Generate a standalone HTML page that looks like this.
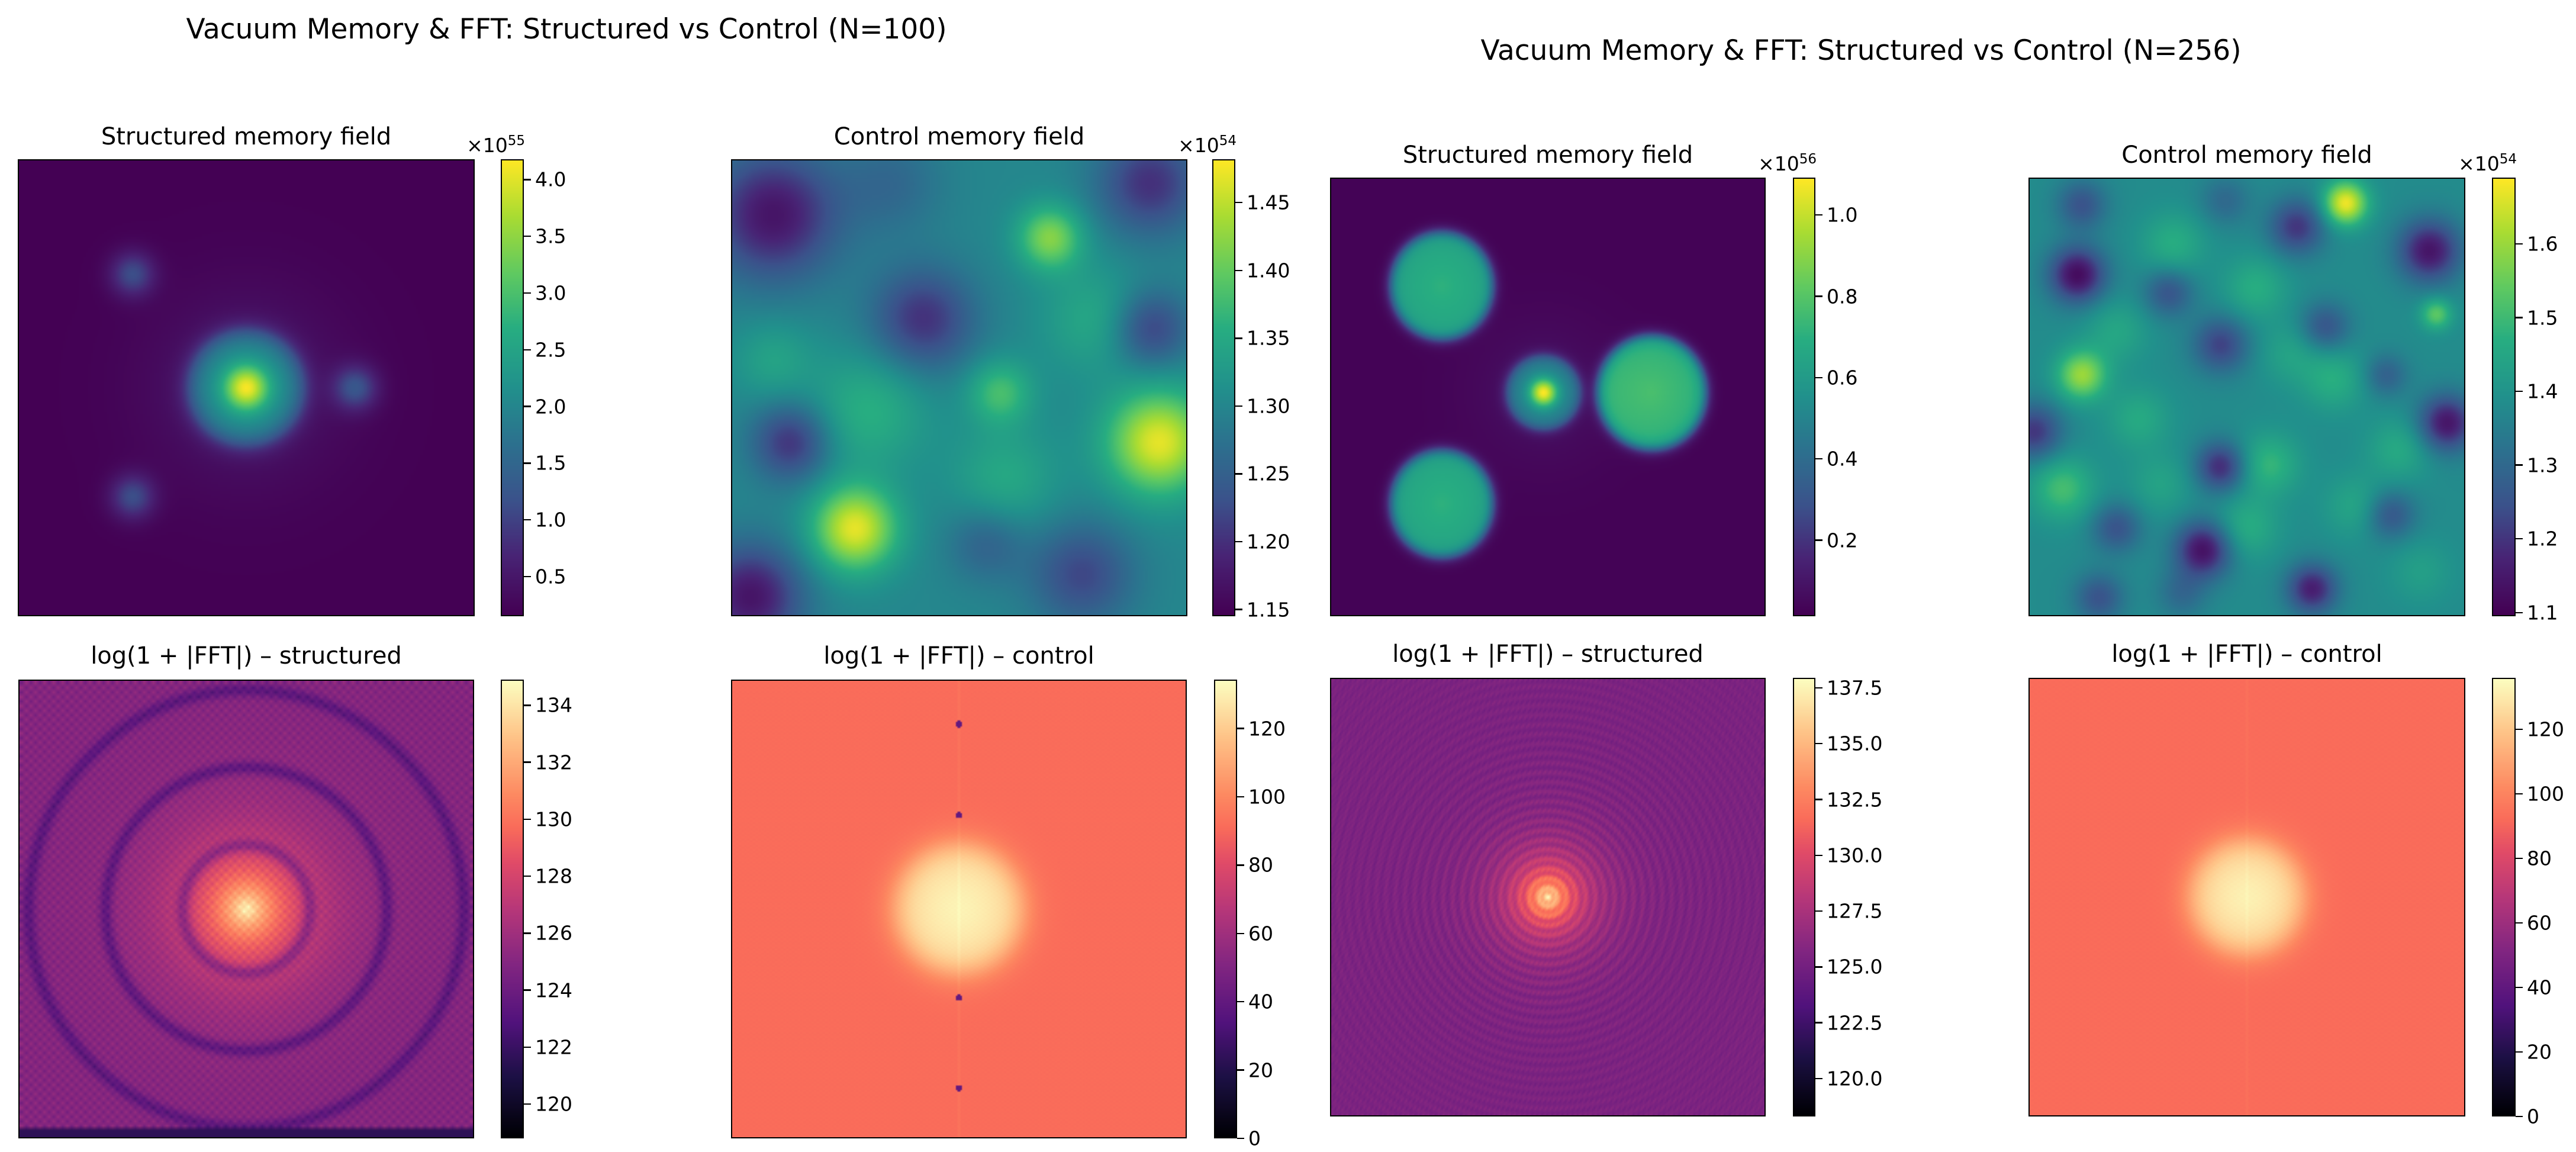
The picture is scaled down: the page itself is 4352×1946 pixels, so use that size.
<!DOCTYPE html>
<html><head><meta charset="utf-8">
<style>
html,body{margin:0;padding:0;background:#fff;}
body{width:4352px;height:1946px;position:relative;overflow:hidden;font-family:"DejaVu Sans","Liberation Sans",sans-serif;color:#000;}
.ax{position:absolute;box-sizing:border-box;border:2.7px solid #000;overflow:hidden;}
.ax canvas{width:100%;height:100%;display:block;}
.cb{position:absolute;box-sizing:border-box;border:2.7px solid #000;}
.cb canvas{width:100%;height:100%;display:block;}
.title{position:absolute;font-size:40px;white-space:nowrap;transform:translateX(-50%);}
.sup{position:absolute;font-size:47px;white-space:nowrap;transform:translateX(-50%);}
.tick{position:absolute;height:2.4px;width:12px;background:#000;}
.tl{position:absolute;font-size:33px;white-space:nowrap;transform:translateY(-50%);}
.exp{position:absolute;font-size:33px;white-space:nowrap;}
.exp sup{font-size:23px;}
</style></head>
<body>
<div class="sup" style="left:957px;top:22px">Vacuum Memory &amp; FFT: Structured vs Control (N=100)</div>
<div class="sup" style="left:3144px;top:58px">Vacuum Memory &amp; FFT: Structured vs Control (N=256)</div>
<div id="root"></div>
<script>
// ---- colorbar tick data ----
const ticksP1=[0.5,1.0,1.5,2.0,2.5,3.0,3.5,4.0];
const labelsP1=["0.5","1.0","1.5","2.0","2.5","3.0","3.5","4.0"];
const rangeP1=[0.15,4.18];
const ticksP2=[1.15,1.20,1.25,1.30,1.35,1.40,1.45];
const labelsP2=["1.15","1.20","1.25","1.30","1.35","1.40","1.45"];
const rangeP2=[1.145,1.482];
const ticksP3=[0.2,0.4,0.6,0.8,1.0];
const labelsP3=["0.2","0.4","0.6","0.8","1.0"];
const rangeP3=[0.013,1.092];
const ticksP4=[1.1,1.2,1.3,1.4,1.5,1.6];
const labelsP4=["1.1","1.2","1.3","1.4","1.5","1.6"];
const rangeP4=[1.095,1.69];
const ticksP5=[120,122,124,126,128,130,132,134];
const labelsP5=["120","122","124","126","128","130","132","134"];
const rangeP5=[118.8,134.9];
const ticksP6=[0,20,40,60,80,100,120];
const labelsP6=["0","20","40","60","80","100","120"];
const rangeP6=[0,134.3];
const ticksP7=[120.0,122.5,125.0,127.5,130.0,132.5,135.0,137.5];
const labelsP7=["120.0","122.5","125.0","127.5","130.0","132.5","135.0","137.5"];
const rangeP7=[118.3,137.95];
const ticksP8=[0,20,40,60,80,100,120];
const labelsP8=["0","20","40","60","80","100","120"];
const rangeP8=[0,136];

// ---- field data ----
const satX1=[0.25,0.25,0.74];
const satY1=[0.25,0.74,0.50];
const satA1=[0.95,0.95,1.0];
// control N=100 blobs
const c2X=[0.27,0.94,0.70,0.59,0.09,0.92,0.42,0.77,0.04,0.13,0.92,0.56,0.09,0.30,0.80,0.35,0.60];
const c2Y=[0.81,0.62,0.17,0.51,0.12,0.05,0.35,0.91,0.96,0.62,0.37,0.84,0.44,0.55,0.35,0.05,0.70];
const c2A=[0.17,0.17,0.12,0.08,-0.13,-0.10,-0.10,-0.08,-0.13,-0.10,-0.09,-0.05,0.04,0.06,0.05,-0.04,0.05];
const c2S=[0.065,0.08,0.05,0.05,0.10,0.08,0.08,0.08,0.08,0.06,0.06,0.06,0.06,0.09,0.08,0.08,0.08];
// structured N=256 disks
const d3X=[0.255,0.255,0.74];
const d3Y=[0.245,0.745,0.49];
const d3V=[0.62,0.62,0.68];
const d3R=[0.118,0.118,0.125];
// control N=256 blobs
const c4X=[0.727,0.12,0.936,0.076,0.55,0.70,0.33,0.11,0.92,0.96,0.44,0.40,0.65,0.615,0.12,0.44,0.32,0.68,0.20,0.01,0.83,0.16,0.82,0.25,0.52,0.85,0.35,0.50,0.20,0.75,0.60,0.30,0.90,0.45];
const c4Y=[0.056,0.45,0.31,0.71,0.655,0.46,0.15,0.22,0.165,0.56,0.66,0.85,0.94,0.11,0.06,0.38,0.26,0.34,0.80,0.58,0.77,0.96,0.45,0.55,0.25,0.62,0.95,0.80,0.35,0.75,0.40,0.70,0.90,0.05];
const c4A=[0.30,0.22,0.16,0.13,0.11,0.09,0.09,-0.26,-0.24,-0.24,-0.20,-0.25,-0.22,-0.18,-0.13,-0.16,-0.13,-0.13,-0.13,-0.18,-0.13,-0.13,-0.10,0.08,0.09,0.08,-0.08,0.09,0.07,0.07,0.06,0.06,0.05,-0.08];
const c4S=[0.035,0.04,0.025,0.05,0.05,0.05,0.05,0.045,0.05,0.045,0.04,0.045,0.04,0.045,0.04,0.045,0.04,0.04,0.04,0.045,0.04,0.04,0.035,0.05,0.05,0.05,0.04,0.05,0.05,0.05,0.05,0.05,0.05,0.04];
// FFT structured N=100 dark rings
const ring5R=[0.14,0.31,0.48];
const ring5D=[2.2,2.0,1.8];
// FFT control N=100 dark dots
const dot6Y=[0.095,0.294,0.694,0.893];

// ---- colormaps ----
const VIR=[[0,68,1,84],[.13,72,36,117],[.25,59,82,139],[.38,44,114,142],[.5,33,145,140],[.63,39,173,129],[.75,94,201,98],[.88,170,220,50],[1,253,231,37]];
const MAG=[[0,0,0,4],[.13,28,16,68],[.25,81,18,124],[.38,131,38,129],[.5,183,55,121],[.6,224,74,104],[.68,250,108,90],[.75,253,137,97],[.88,254,196,136],[1,252,253,191]];
function cmap(m,t){t=Math.max(0,Math.min(1,t));for(let i=1;i<m.length;i++){if(t<=m[i][0]){const a=m[i-1],b=m[i],f=(t-a[0])/(b[0]-a[0]);return [a[1]+(b[1]-a[1])*f,a[2]+(b[2]-a[2])*f,a[3]+(b[3]-a[3])*f];}}const l=m[m.length-1];return [l[1],l[2],l[3]];}
const g=(d2,s)=>Math.exp(-d2/(2*s*s));
const sig=(x)=>1/(1+Math.exp(-x));

const F={
 p1:(x,y)=>{const r2=(x-.5)**2+(y-.5)**2,r=Math.sqrt(r2);let v=0.15+2.1*g(r2,.035)+1.55*sig((0.125-r)/0.014)+0.35*g(r2,0.15);
   for(let i=0;i<satX1.length;i++)v+=satA1[i]*g((x-satX1[i])**2+(y-satY1[i])**2,0.035);return v;},
 p2:(x,y)=>{let v=1.30;for(let i=0;i<c2X.length;i++)v+=c2A[i]*g((x-c2X[i])**2+(y-c2Y[i])**2,c2S[i]);return v;},
 p3:(x,y)=>{let v=0.02;for(let i=0;i<d3X.length;i++){const r=Math.hypot(x-d3X[i],(y-d3Y[i])*0.96);v+=(d3V[i]+0.07*(1-r/d3R[i]))*sig((d3R[i]-r)/0.008);}
   const r2=(x-.49)**2+(y-.49)**2,r=Math.sqrt(r2);v+=0.6*g(r2,0.022)+0.42*sig((0.085-r)/0.008)+0.05*g(r2,0.12);return v;},
 p4:(x,y)=>{let v=1.38;for(let i=0;i<c4X.length;i++)v+=c4A[i]*g((x-c4X[i])**2+(y-c4Y[i])**2,c4S[i]);return v;},
 p5:(x,y,i,j,n)=>{const r=Math.hypot(x-.5,y-.5);let v=124.9+10*Math.exp(-r/0.1);
   for(let k=0;k<ring5R.length;k++)v-=ring5D[k]*g((r-ring5R[k])**2,0.01);
   v+=0.7*((i+j)%2?1:-1);if(j>=n-2)v=121.5;return v;},
 p6:(x,y,i,j)=>{const r=Math.hypot(x-.5,y-.5);let v=91.5+0.8*Math.sin(i*1.7)*Math.cos(j*2.3)+36*sig((0.14-r)/0.02)+4*g(r*r,0.05);
   if(Math.abs(x-.5)<0.003)v+=2;for(const dy of dot6Y){if(Math.hypot(x-.5,y-dy)<0.007)v=40;}return v;},
 p7:(x,y,i,j)=>{const r=Math.hypot(x-.5,y-.5);let v=125.4+12*Math.exp(-r/0.065)+0.9*Math.cos(2*Math.PI*r/0.022)*Math.exp(-r/0.35)+0.5*Math.sin(i*2.1+j*1.3)*Math.cos(j*0.7);return v;},
 p8:(x,y,i,j)=>{const r=Math.hypot(x-.5,y-.5);let v=92.5+0.6*Math.sin(i*1.3)*Math.cos(j*1.9)+35*sig((0.13-r)/0.02)+5*g(r*r,0.05);if(Math.abs(x-.5)<0.002)v+=1.5;return v;}
};

const panels=[
 {id:'p1',name:'structured-field-n100',title:'Structured memory field',x:30,y:269,w:772,h:772,cb:[846,885],map:VIR,range:rangeP1,ticks:ticksP1,labels:labelsP1,exp:'55',n:200,ty:233},
 {id:'p2',name:'control-field-n100',title:'Control memory field',x:1235,y:269,w:771,h:772,cb:[2048,2087],map:VIR,range:rangeP2,ticks:ticksP2,labels:labelsP2,exp:'54',n:200,ty:233},
 {id:'p3',name:'structured-field-n256',title:'Structured memory field',x:2247,y:300,w:736,h:741,cb:[3029,3067],map:VIR,range:rangeP3,ticks:ticksP3,labels:labelsP3,exp:'56',n:256,ty:264},
 {id:'p4',name:'control-field-n256',title:'Control memory field',x:3427,y:300,w:738,h:741,cb:[4210,4250],map:VIR,range:rangeP4,ticks:ticksP4,labels:labelsP4,exp:'54',n:256,ty:264},
 {id:'p5',name:'fft-structured-n100',title:'log(1 + |FFT|) – structured',x:31,y:1148,w:770,h:775,cb:[846,885],map:MAG,range:rangeP5,ticks:ticksP5,labels:labelsP5,n:100,ty:1110},
 {id:'p6',name:'fft-control-n100',title:'log(1 + |FFT|) – control',x:1235,y:1148,w:770,h:775,cb:[2051,2090],map:MAG,range:rangeP6,ticks:ticksP6,labels:labelsP6,n:300,ty:1110},
 {id:'p7',name:'fft-structured-n256',title:'log(1 + |FFT|) – structured',x:2247,y:1145,w:736,h:741,cb:[3029,3067],map:MAG,range:rangeP7,ticks:ticksP7,labels:labelsP7,n:256,ty:1107},
 {id:'p8',name:'fft-control-n256',title:'log(1 + |FFT|) – control',x:3427,y:1145,w:738,h:741,cb:[4210,4250],map:MAG,range:rangeP8,ticks:ticksP8,labels:labelsP8,n:300,ty:1107}
];

const root=document.getElementById('root');
for(const p of panels){
  const t=document.createElement('div');t.className='title';
  
  
  t.style.left=(p.x+p.w/2)+'px';t.style.top=(p.ty-25)+'px';t.textContent=p.title;root.appendChild(t);

  const ax=document.createElement('div');ax.className='ax';
  
  
  Object.assign(ax.style,{left:p.x+'px',top:p.y+'px',width:p.w+'px',height:p.h+'px'});
  const cv=document.createElement('canvas');cv.width=p.n;cv.height=p.n;
  const ctx=cv.getContext('2d');const im=ctx.createImageData(p.n,p.n);
  const [lo,hi]=p.range;
  for(let j=0;j<p.n;j++)for(let i=0;i<p.n;i++){
    const v=F[p.id]((i+.5)/p.n,(j+.5)/p.n,i,j,p.n);
    const c=cmap(p.map,(v-lo)/(hi-lo));const k=(j*p.n+i)*4;
    im.data[k]=c[0];im.data[k+1]=c[1];im.data[k+2]=c[2];im.data[k+3]=255;}
  ctx.putImageData(im,0,0);ax.appendChild(cv);root.appendChild(ax);

  const cbw=p.cb[1]-p.cb[0];
  const cb=document.createElement('div');cb.className='cb';
  
  
  Object.assign(cb.style,{left:p.cb[0]+'px',top:p.y+'px',width:cbw+'px',height:p.h+'px'});
  const cc=document.createElement('canvas');cc.width=1;cc.height=256;
  const c2=cc.getContext('2d');const im2=c2.createImageData(1,256);
  for(let j=0;j<256;j++){const c=cmap(p.map,1-j/255);im2.data[j*4]=c[0];im2.data[j*4+1]=c[1];im2.data[j*4+2]=c[2];im2.data[j*4+3]=255;}
  c2.putImageData(im2,0,0);cb.appendChild(cc);root.appendChild(cb);

  for(let i=0;i<p.ticks.length;i++){
    const yy=p.y+p.h*(1-(p.ticks[i]-lo)/(hi-lo));
    const tk=document.createElement('div');tk.className='tick';
    
    
    tk.style.left=p.cb[1]+'px';tk.style.top=(yy-1.2)+'px';root.appendChild(tk);
    const tl=document.createElement('div');tl.className='tl';
    
    
    tl.style.left=(p.cb[1]+19)+'px';tl.style.top=yy+'px';tl.textContent=p.labels[i];root.appendChild(tl);
  }
  if(p.exp){
    const e=document.createElement('div');e.className='exp';
    
    
    e.style.right=(4352-p.cb[1]-2)+'px';e.style.top=(p.y-44)+'px';
    e.innerHTML='×10<sup>'+p.exp+'</sup>';root.appendChild(e);
  }
}
</script>
</body></html>
